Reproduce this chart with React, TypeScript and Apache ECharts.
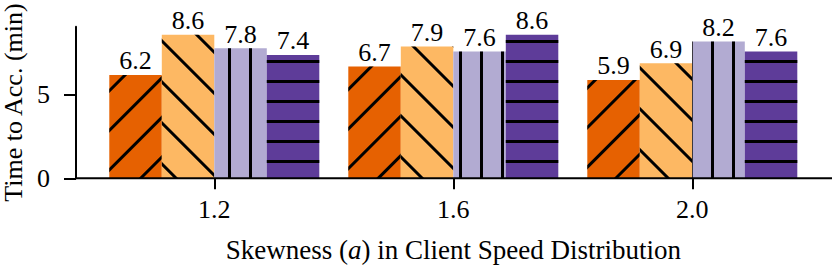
import React, { useEffect, useRef } from "react";
import * as echarts from "echarts";

const categories = ["1.2", "1.6", "2.0"];
const seriesA = [6.2, 6.7, 5.9];
const seriesB = [8.6, 7.9, 6.9];
const seriesC = [7.8, 7.6, 8.2];
const seriesD = [7.4, 8.6, 7.6];
const yTicks = [0, 5];

const FONT = "'Liberation Serif', 'Times New Roman', 'DejaVu Serif', serif";

export default function App() {
  const ref = useRef<HTMLDivElement>(null);
  useEffect(() => {
    if (!ref.current) return;
    const chart = echarts.init(ref.current, null, { renderer: "svg" });
    const gridLeft = 94.8;
    const gridTop = 26.7;
    const gridBottom = 89.7;
    const axisX = 76;
    const axisY = 268 - gridBottom;
    const hatch = (rot: number, gap: number, thick: number) => ({
      symbol: "rect",
      symbolSize: 1,
      symbolKeepAspect: false,
      color: "#000000",
      dashArrayX: [[40, 0]],
      dashArrayY: [thick, gap],
      rotation: rot,
    });
    const mk = (name: string, data: number[], color: string, decal: any) => ({
      type: "bar",
      name,
      data,
      barWidth: 52.5,
      barGap: "0%",
      itemStyle: { color, decal },
      label: {
        show: true,
        position: "top",
        distance: 1,
        fontFamily: FONT,
        fontSize: 26,
        color: "#000",
      },
    });
    chart.setOption({
      animation: false,
      backgroundColor: "#fff",
      textStyle: { fontFamily: FONT },
      grid: {
        left: gridLeft,
        right: 20.2,
        top: gridTop,
        bottom: gridBottom,
        containLabel: false,
        outerBoundsMode: "none",
      },
      xAxis: {
        type: "category",
        data: categories,
        axisLine: { show: false },
        axisTick: {
          show: true,
          alignWithLabel: true,
          length: 11,
          lineStyle: { color: "#000", width: 2 },
        },
        axisLabel: { fontFamily: FONT, fontSize: 26, color: "#000", margin: 18 },
        name: "Skewness ({i|a}) in Client Speed Distribution",
        nameLocation: "middle",
        nameGap: 58,
        nameTextStyle: {
          fontFamily: FONT,
          fontSize: 27,
          color: "#000",
          rich: { i: { fontFamily: FONT, fontSize: 27, fontStyle: "italic", color: "#000" } },
        },
      },
      yAxis: {
        type: "value",
        min: 0,
        max: 9.09,
        offset: gridLeft - axisX,
        splitLine: { show: false },
        axisLine: { show: true, lineStyle: { color: "#000", width: 2 } },
        axisTick: {
          show: true,
          length: 12,
          customValues: yTicks,
          lineStyle: { color: "#000", width: 2 },
        },
        axisLabel: {
          fontFamily: FONT,
          fontSize: 26,
          color: "#000",
          margin: 26,
          customValues: yTicks,
        },
        name: "Time to Acc. (min)",
        nameLocation: "middle",
        nameGap: 48,
        nameTextStyle: { fontFamily: FONT, fontSize: 26, color: "#000" },
      },
      graphic: [
        {
          type: "line",
          shape: { x1: axisX, y1: axisY, x2: 832, y2: axisY },
          style: { stroke: "#000", lineWidth: 2 },
          z: 100,
        },
      ],
      series: [
        mk("a", seriesA, "#e66101", hatch(-Math.PI / 4, 25, 3)),
        mk("b", seriesB, "#fdb863", hatch(Math.PI / 4, 26, 3)),
        mk("c", seriesC, "#b2abd2", hatch(Math.PI / 2, 18, 3)),
        mk("d", seriesD, "#5e3c99", hatch(0, 17, 3)),
      ],
    });
    return () => chart.dispose();
  }, []);
  return (
    <div
      ref={ref}
      style={{ position: "fixed", left: 0, top: 0, width: 832, height: 268 }}
    />
  );
}
